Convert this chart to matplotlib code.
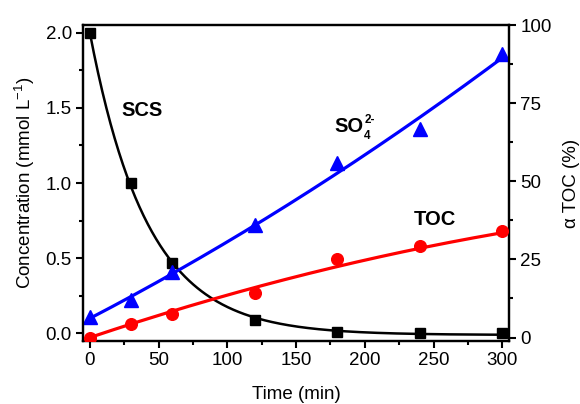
import numpy as np
import matplotlib
matplotlib.use("Agg")
import matplotlib.pyplot as plt
from matplotlib.ticker import MultipleLocator

plt.rcParams['font.family'] = ['Liberation Sans', 'DejaVu Sans']
plt.rcParams['mathtext.fontset'] = 'custom'
plt.rcParams['mathtext.rm'] = 'Liberation Sans'
plt.rcParams['mathtext.it'] = 'Liberation Sans:italic'
plt.rcParams['mathtext.bf'] = 'Liberation Sans:bold'

# measured points
time = [0, 30, 60, 120, 180, 240, 300]
scs = [2.00, 1.00, 0.47, 0.09, 0.01, 0.00, 0.00]          # mmol/L
so4 = [0.11, 0.22, 0.41, 0.72, 1.13, 1.36, 1.86]          # mmol/L
toc = [0.0, 4.3, 7.5, 14.1, 25.0, 29.2, 34.0]             # %

# fitted curves
scs_fit = (2.01, 0.0238, -0.01)          # A, k, offset  (A*exp(-k t) + c)
so4_fit = [3.42e-6, 0.00475, 0.10]       # quadratic coefficients
toc_fit = [-1.2e-4, 0.1478, 0.0]         # quadratic coefficients

t = np.linspace(0, 300, 300)
fs = 13.5

fig = plt.figure(figsize=(5.8, 4.04), dpi=100)
ax = fig.add_axes([0.143, 0.156, 0.735, 0.782])
ax2 = ax.twinx()

# curves
A, k, c = scs_fit
ax.plot(t, A * np.exp(-k * t) + c, color='black', lw=1.8, zorder=3)
ax.plot(time, scs, 's', color='black', ms=7.5, zorder=4)

ax.plot(t, np.polyval(so4_fit, t), color='blue', lw=2.3, zorder=3)
ax.plot(time, so4, '^', color='blue', ms=10, zorder=4)

ax2.plot(t, np.polyval(toc_fit, t), color='red', lw=2.3, zorder=3)
ax2.plot(time, toc, 'o', color='red', ms=8.4, zorder=4)

# axes limits / ticks
ax.set_xlim(-5, 305)
ax.set_ylim(-0.05, 2.05)
ax2.set_ylim(-1.1, 100)

ax.xaxis.set_major_locator(MultipleLocator(50))
ax.xaxis.set_minor_locator(MultipleLocator(25))
ax.yaxis.set_major_locator(MultipleLocator(0.5))
ax.yaxis.set_minor_locator(MultipleLocator(0.25))
ax2.yaxis.set_major_locator(MultipleLocator(25))
ax2.yaxis.set_minor_locator(MultipleLocator(12.5))

for a in (ax, ax2):
    for s in a.spines.values():
        s.set_linewidth(1.6)
    a.tick_params(which='major', direction='out', length=5, width=1.5,
                  labelsize=fs, pad=3)
    a.tick_params(which='minor', direction='out', length=3, width=1.5)
ax.tick_params(top=False, right=False, which='both')
ax2.tick_params(left=False, right=True, which='both')

ax.set_xlabel('Time (min)', fontsize=fs, labelpad=12)
ax.set_ylabel('Concentration (mmol L$^{-1}$)', fontsize=fs, labelpad=6)
ax2.set_ylabel('\u03b1 TOC (%)', fontsize=fs, labelpad=8)

# labels on the curves
bold = dict(fontweight='bold', va='baseline', ha='left')
ax.text(23.3, 1.448, 'SCS', fontsize=14.5, **bold)
ax.text(235.8, 0.72, 'TOC', fontsize=14.5, **bold)
ax.annotate('SO', (178.1, 1.338), fontsize=14.5, **bold)
ax.annotate('4', (178.1, 1.338), xytext=(21.3, -4.8), textcoords='offset points',
            fontsize=8.5, **bold)
ax.annotate('2-', (178.1, 1.338), xytext=(21.3, 6.5), textcoords='offset points',
            fontsize=8.5, **bold)

fig.savefig('out.png', dpi=100)
